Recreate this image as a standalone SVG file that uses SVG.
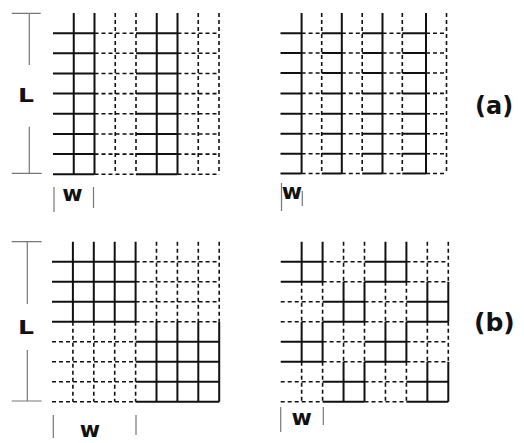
<svg xmlns="http://www.w3.org/2000/svg" width="524" height="443" viewBox="0 0 524 443">
<style>
.s{fill:none;stroke:#111;stroke-width:2}
.d{fill:none;stroke:#111;stroke-width:1.6;stroke-dasharray:4 3}
.m{fill:none;stroke:#777;stroke-width:1.2}
.t{font-family:"DejaVu Sans","Liberation Sans",sans-serif;font-weight:bold;fill:#111}
</style>
<rect width="524" height="443" fill="#fff"/>

<g id="grid-a-left">
<path class="s" d="M53 33.2H94.5M136 33.2H177.5M53 53.3H94.5M136 53.3H177.5M53 73.5H94.5M136 73.5H177.5M53 93.6H94.5M136 93.6H177.5M53 113.8H94.5M136 113.8H177.5M53 134H94.5M136 134H177.5M53 154.1H94.5M136 154.1H177.5M53 174.3H94.5M136 174.3H177.5M73.75 13V174.3M94.5 13V174.3M156.75 13V174.3M177.5 13V174.3"/>
<path class="d" d="M94.5 33.2H136M177.5 33.2H219M94.5 53.3H136M177.5 53.3H219M94.5 73.5H136M177.5 73.5H219M94.5 93.6H136M177.5 93.6H219M94.5 113.8H136M177.5 113.8H219M94.5 134H136M177.5 134H219M94.5 154.1H136M177.5 154.1H219M94.5 174.3H136M177.5 174.3H219M115.25 13V174.3M136 13V174.3M198.25 13V174.3M219 13V174.3"/>
</g>

<g id="grid-a-right">
<path class="s" d="M280.5 33.2H301.6M321.7 33.2H341.8M362.2 33.2H382.5M402.3 33.2H426M280.5 53H301.6M321.7 53H341.8M362.2 53H382.5M402.3 53H426M280.5 73H301.6M321.7 73H341.8M362.2 73H382.5M402.3 73H426M280.5 93.4H301.6M321.7 93.4H341.8M362.2 93.4H382.5M402.3 93.4H426M280.5 113.8H301.6M321.7 113.8H341.8M362.2 113.8H382.5M402.3 113.8H426M280.5 133.8H301.6M321.7 133.8H341.8M362.2 133.8H382.5M402.3 133.8H426M280.5 153.7H301.6M321.7 153.7H341.8M362.2 153.7H382.5M402.3 153.7H426M280.5 173.5H301.6M321.7 173.5H341.8M362.2 173.5H382.5M402.3 173.5H426M301.6 13V173.5M341.8 13V173.5M382.5 13V173.5M426 13V173.5"/>
<path class="d" d="M301.6 33.2H321.7M341.8 33.2H362.2M382.5 33.2H402.3M426 33.2H446.5M301.6 53H321.7M341.8 53H362.2M382.5 53H402.3M426 53H446.5M301.6 73H321.7M341.8 73H362.2M382.5 73H402.3M426 73H446.5M301.6 93.4H321.7M341.8 93.4H362.2M382.5 93.4H402.3M426 93.4H446.5M301.6 113.8H321.7M341.8 113.8H362.2M382.5 113.8H402.3M426 113.8H446.5M301.6 133.8H321.7M341.8 133.8H362.2M382.5 133.8H402.3M426 133.8H446.5M301.6 153.7H321.7M341.8 153.7H362.2M382.5 153.7H402.3M426 153.7H446.5M301.6 173.5H321.7M341.8 173.5H362.2M382.5 173.5H402.3M426 173.5H446.5M321.7 13V173.5M362.2 13V173.5M402.3 13V173.5M446.5 13V173.5"/>
</g>

<g id="grid-b-left">
<path class="s" d="M52 261.7H135.6M52 281.7H135.6M52 301.7H135.6M52 321.7H135.6M135.6 341.7H219.2M135.6 361.7H219.2M135.6 381.7H219.2M135.6 401.7H219.2M72.9 241.7V321.7M93.8 241.7V321.7M114.7 241.7V321.7M135.6 241.7V321.7M156.5 321.7V401.7M177.4 321.7V401.7M198.3 321.7V401.7M219.2 321.7V401.7"/>
<path class="d" d="M135.6 261.7H219.2M135.6 281.7H219.2M135.6 301.7H219.2M135.6 321.7H219.2M52 341.7H135.6M52 361.7H135.6M52 381.7H135.6M52 401.7H135.6M72.9 321.7V401.7M93.8 321.7V401.7M114.7 321.7V401.7M135.6 321.7V401.7M156.5 241.7V321.7M177.4 241.7V321.7M198.3 241.7V321.7M219.2 241.7V321.7"/>
</g>

<g id="grid-b-right">
<path class="s" d="M280.7 261.7H322.6M364.5 261.7H406.4M280.7 281.7H322.6M364.5 281.7H406.4M280.7 341.7H322.6M364.5 341.7H406.4M280.7 361.7H322.6M364.5 361.7H406.4M322.6 301.7H364.5M406.4 301.7H448.3M322.6 321.7H364.5M406.4 321.7H448.3M322.6 381.7H364.5M406.4 381.7H448.3M322.6 401.7H364.5M406.4 401.7H448.3M301.65 241.7V281.7M301.65 321.7V361.7M322.6 241.7V281.7M322.6 321.7V361.7M385.45 241.7V281.7M385.45 321.7V361.7M406.4 241.7V281.7M406.4 321.7V361.7M343.55 281.7V321.7M343.55 361.7V401.7M364.5 281.7V321.7M364.5 361.7V401.7M427.35 281.7V321.7M427.35 361.7V401.7M448.3 281.7V321.7M448.3 361.7V401.7"/>
<path class="d" d="M322.6 261.7H364.5M406.4 261.7H448.3M322.6 281.7H364.5M406.4 281.7H448.3M322.6 341.7H364.5M406.4 341.7H448.3M322.6 361.7H364.5M406.4 361.7H448.3M280.7 301.7H322.6M364.5 301.7H406.4M280.7 321.7H322.6M364.5 321.7H406.4M280.7 381.7H322.6M364.5 381.7H406.4M280.7 401.7H322.6M364.5 401.7H406.4M301.65 281.7V321.7M301.65 361.7V401.7M322.6 281.7V321.7M322.6 361.7V401.7M385.45 281.7V321.7M385.45 361.7V401.7M406.4 281.7V321.7M406.4 361.7V401.7M343.55 241.7V281.7M343.55 321.7V361.7M364.5 241.7V281.7M364.5 321.7V361.7M427.35 241.7V281.7M427.35 321.7V361.7M448.3 241.7V281.7M448.3 321.7V361.7"/>
</g>

<g id="dimensions">
<path class="m" d="M11.7 13.3H40.7M29.3 13.3V65M29.3 126.7V173.3M11.7 173.3H41.7"/>
<path class="m" d="M11.7 241.7H41.7M27.3 241.7V304M27.3 350V401M11.7 401H41.7"/>
<path class="m" d="M54 187V212M93.5 187V208"/>
<path class="m" d="M281.5 183V211M302.3 191V206"/>
<path class="m" d="M53.3 415V438M136 415V435"/>
<path class="m" d="M280.7 407V432M323.3 407V425"/>
</g>

<g id="labels">
<text class="t" x="18" y="101.7" font-size="20" textLength="16" lengthAdjust="spacingAndGlyphs">L</text>
<text class="t" x="18" y="334" font-size="20" textLength="16" lengthAdjust="spacingAndGlyphs">L</text>
<text class="t" x="72.5" y="200.5" font-size="22" text-anchor="middle">w</text>
<text class="t" x="292" y="198.5" font-size="22" text-anchor="middle">w</text>
<text class="t" x="90" y="437" font-size="22" text-anchor="middle">w</text>
<text class="t" x="301.7" y="425" font-size="22" text-anchor="middle">w</text>
<text class="t" x="475" y="114" font-size="24">(a)</text>
<text class="t" x="474" y="331" font-size="25">(b)</text>
</g>
</svg>
